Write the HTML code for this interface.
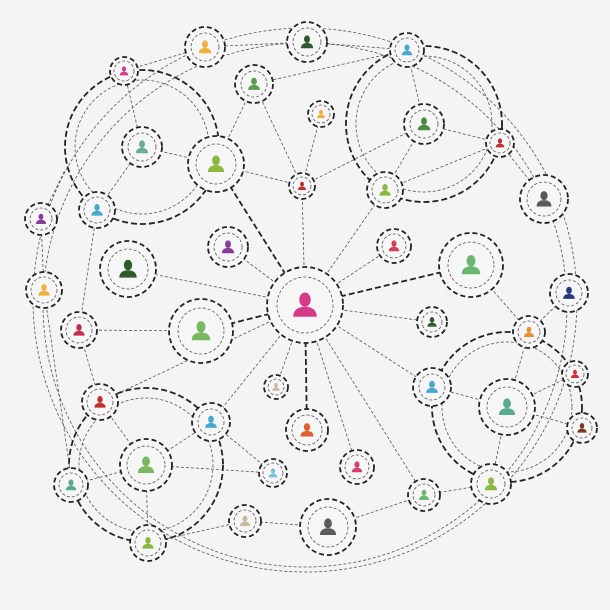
<!DOCTYPE html>
<html><head><meta charset="utf-8"><style>html,body{margin:0;padding:0;background:#f4f4f4}svg{display:block}</style></head><body>
<svg width="610" height="610" viewBox="0 0 610 610" xmlns="http://www.w3.org/2000/svg">
<defs>
<g id="p"><ellipse cx="0" cy="-0.28" rx="0.3" ry="0.38"/><path d="M-0.62,0.62 Q-0.62,0.18 -0.14,0.1 L0.14,0.1 Q0.62,0.18 0.62,0.62 Z"/></g>
</defs>
<rect width="610" height="610" fill="#f4f4f4"/>
<g fill="none" stroke="#555" stroke-width="0.8" stroke-dasharray="3 2">
<circle cx="305" cy="300" r="272"/>
<circle cx="305" cy="305" r="262"/>
</g>
<g fill="none" stroke="#222" stroke-width="1.8" stroke-dasharray="6 3">
<circle cx="142" cy="147" r="77"/>
<circle cx="424" cy="124" r="78"/>
<circle cx="507" cy="407" r="75"/>
<circle cx="146" cy="465" r="77"/>
</g>
<g fill="none" stroke="#555" stroke-width="0.8" stroke-dasharray="3 2">
<circle cx="142" cy="147" r="67"/>
<circle cx="424" cy="124" r="68"/>
<circle cx="507" cy="407" r="65"/>
<circle cx="146" cy="465" r="67"/>
</g>
<g stroke="#222" stroke-width="1.8" stroke-dasharray="6 3">
<line x1="305" y1="305" x2="216" y2="164"/>
<line x1="305" y1="305" x2="471" y2="265"/>
<line x1="305" y1="305" x2="201" y2="331"/>
<line x1="305" y1="305" x2="307" y2="430"/>
</g>
<g stroke="#555" stroke-width="0.8" stroke-dasharray="3 2">
<line x1="305" y1="305" x2="302" y2="186"/>
<line x1="305" y1="305" x2="385" y2="190"/>
<line x1="305" y1="305" x2="394" y2="246"/>
<line x1="305" y1="305" x2="228" y2="247"/>
<line x1="305" y1="305" x2="128" y2="269"/>
<line x1="305" y1="305" x2="432" y2="322"/>
<line x1="305" y1="305" x2="432" y2="387"/>
<line x1="305" y1="305" x2="424" y2="495"/>
<line x1="305" y1="305" x2="211" y2="422"/>
<line x1="305" y1="305" x2="276" y2="387"/>
<line x1="305" y1="305" x2="357" y2="467"/>
<line x1="305" y1="305" x2="100" y2="402"/>
<line x1="302" y1="186" x2="254" y2="84"/>
<line x1="302" y1="186" x2="321" y2="114"/>
<line x1="302" y1="186" x2="216" y2="164"/>
<line x1="302" y1="186" x2="424" y2="124"/>
<line x1="385" y1="190" x2="424" y2="124"/>
<line x1="385" y1="190" x2="500" y2="143"/>
<line x1="216" y1="164" x2="142" y2="147"/>
<line x1="216" y1="164" x2="254" y2="84"/>
<line x1="254" y1="84" x2="407" y2="50"/>
<line x1="205" y1="47" x2="307" y2="42"/>
<line x1="307" y1="42" x2="407" y2="50"/>
<line x1="205" y1="47" x2="124" y2="71"/>
<line x1="124" y1="71" x2="142" y2="147"/>
<line x1="142" y1="147" x2="97" y2="210"/>
<line x1="407" y1="50" x2="424" y2="124"/>
<line x1="424" y1="124" x2="500" y2="143"/>
<line x1="500" y1="143" x2="544" y2="199"/>
<line x1="41" y1="219" x2="65" y2="170"/>
<line x1="41" y1="219" x2="44" y2="290"/>
<line x1="44" y1="290" x2="70" y2="470"/>
<line x1="79" y1="330" x2="201" y2="331"/>
<line x1="79" y1="330" x2="97" y2="210"/>
<line x1="79" y1="330" x2="100" y2="402"/>
<line x1="471" y1="265" x2="529" y2="332"/>
<line x1="529" y1="332" x2="569" y2="293"/>
<line x1="529" y1="332" x2="507" y2="407"/>
<line x1="507" y1="407" x2="432" y2="387"/>
<line x1="507" y1="407" x2="575" y2="374"/>
<line x1="507" y1="407" x2="582" y2="428"/>
<line x1="507" y1="407" x2="491" y2="484"/>
<line x1="424" y1="495" x2="491" y2="484"/>
<line x1="100" y1="402" x2="146" y2="465"/>
<line x1="211" y1="422" x2="146" y2="465"/>
<line x1="146" y1="465" x2="273" y2="473"/>
<line x1="146" y1="465" x2="71" y2="485"/>
<line x1="146" y1="465" x2="148" y2="543"/>
<line x1="148" y1="543" x2="245" y2="521"/>
<line x1="245" y1="521" x2="328" y2="527"/>
<line x1="328" y1="527" x2="424" y2="495"/>
<line x1="211" y1="422" x2="273" y2="473"/>
</g>
<g fill="#f6f6f6" stroke="#222" stroke-width="1.8" stroke-dasharray="5 3">
<circle cx="305" cy="305" r="38"/><circle cx="205" cy="47" r="20"/><circle cx="307" cy="42" r="20"/><circle cx="407" cy="50" r="17"/>
<circle cx="124" cy="71" r="14"/><circle cx="254" cy="84" r="19"/><circle cx="321" cy="114" r="13"/><circle cx="424" cy="124" r="20"/>
<circle cx="500" cy="143" r="14"/><circle cx="142" cy="147" r="20"/><circle cx="216" cy="164" r="28"/><circle cx="302" cy="186" r="13"/>
<circle cx="385" cy="190" r="18"/><circle cx="544" cy="199" r="24"/><circle cx="41" cy="219" r="16"/><circle cx="97" cy="210" r="18"/>
<circle cx="228" cy="247" r="20"/><circle cx="394" cy="246" r="17"/><circle cx="128" cy="269" r="28"/><circle cx="471" cy="265" r="32"/>
<circle cx="44" cy="290" r="18"/><circle cx="569" cy="293" r="19"/><circle cx="79" cy="330" r="18"/><circle cx="201" cy="331" r="32"/>
<circle cx="432" cy="322" r="15"/><circle cx="529" cy="332" r="16"/><circle cx="575" cy="374" r="13"/><circle cx="276" cy="387" r="12"/>
<circle cx="432" cy="387" r="19"/><circle cx="100" cy="402" r="18"/><circle cx="507" cy="407" r="28"/><circle cx="211" cy="422" r="19"/>
<circle cx="307" cy="430" r="21"/><circle cx="582" cy="428" r="15"/><circle cx="146" cy="465" r="26"/><circle cx="273" cy="473" r="14"/>
<circle cx="357" cy="467" r="17"/><circle cx="71" cy="485" r="17"/><circle cx="491" cy="484" r="20"/><circle cx="424" cy="495" r="16"/>
<circle cx="245" cy="521" r="16"/><circle cx="328" cy="527" r="28"/><circle cx="148" cy="543" r="18"/>
</g>
<g fill="none" stroke="#555" stroke-width="0.8" stroke-dasharray="3 2">
<circle cx="305" cy="305" r="28"/><circle cx="205" cy="47" r="14"/><circle cx="307" cy="42" r="14"/><circle cx="407" cy="50" r="12"/>
<circle cx="124" cy="71" r="10"/><circle cx="254" cy="84" r="13"/><circle cx="321" cy="114" r="9"/><circle cx="424" cy="124" r="14"/>
<circle cx="500" cy="143" r="10"/><circle cx="142" cy="147" r="14"/><circle cx="216" cy="164" r="20"/><circle cx="302" cy="186" r="9"/>
<circle cx="385" cy="190" r="13"/><circle cx="544" cy="199" r="17"/><circle cx="41" cy="219" r="11"/><circle cx="97" cy="210" r="13"/>
<circle cx="228" cy="247" r="14"/><circle cx="394" cy="246" r="12"/><circle cx="128" cy="269" r="20"/><circle cx="471" cy="265" r="23"/>
<circle cx="44" cy="290" r="13"/><circle cx="569" cy="293" r="13"/><circle cx="79" cy="330" r="13"/><circle cx="201" cy="331" r="23"/>
<circle cx="432" cy="322" r="10"/><circle cx="529" cy="332" r="11"/><circle cx="575" cy="374" r="9"/><circle cx="276" cy="387" r="8"/>
<circle cx="432" cy="387" r="13"/><circle cx="100" cy="402" r="13"/><circle cx="507" cy="407" r="20"/><circle cx="211" cy="422" r="13"/>
<circle cx="307" cy="430" r="15"/><circle cx="582" cy="428" r="10"/><circle cx="146" cy="465" r="19"/><circle cx="273" cy="473" r="10"/>
<circle cx="357" cy="467" r="12"/><circle cx="71" cy="485" r="12"/><circle cx="491" cy="484" r="14"/><circle cx="424" cy="495" r="11"/>
<circle cx="245" cy="521" r="11"/><circle cx="328" cy="527" r="20"/><circle cx="148" cy="543" r="13"/>
</g>
<use href="#p" fill="#d63b8a" transform="translate(305,305) scale(19)"/>
<use href="#p" fill="#f0b040" transform="translate(205,47) scale(10)"/>
<use href="#p" fill="#2e5a2e" transform="translate(307,42) scale(10)"/>
<use href="#p" fill="#4aa8cc" transform="translate(407,50) scale(8.5)"/>
<use href="#p" fill="#d63b8a" transform="translate(124,71) scale(7)"/>
<use href="#p" fill="#5a9a50" transform="translate(254,84) scale(9.5)"/>
<use href="#p" fill="#f0b040" transform="translate(321,114) scale(6.5)"/>
<use href="#p" fill="#4e8a44" transform="translate(424,124) scale(10)"/>
<use href="#p" fill="#c03030" transform="translate(500,143) scale(7)"/>
<use href="#p" fill="#6aaa96" transform="translate(142,147) scale(10)"/>
<use href="#p" fill="#8ab840" transform="translate(216,164) scale(13)"/>
<use href="#p" fill="#c03030" transform="translate(302,186) scale(6.5)"/>
<use href="#p" fill="#8ab840" transform="translate(385,190) scale(9)"/>
<use href="#p" fill="#5a5a5a" transform="translate(544,199) scale(12)"/>
<use href="#p" fill="#8a3a9a" transform="translate(41,219) scale(8)"/>
<use href="#p" fill="#4aa8cc" transform="translate(97,210) scale(9)"/>
<use href="#p" fill="#8a3a9a" transform="translate(228,247) scale(10)"/>
<use href="#p" fill="#d04050" transform="translate(394,246) scale(8.5)"/>
<use href="#p" fill="#2e5a2e" transform="translate(128,269) scale(14)"/>
<use href="#p" fill="#6ab870" transform="translate(471,265) scale(15)"/>
<use href="#p" fill="#f0b040" transform="translate(44,290) scale(9)"/>
<use href="#p" fill="#2a3a80" transform="translate(569,293) scale(9.5)"/>
<use href="#p" fill="#c03050" transform="translate(79,330) scale(9)"/>
<use href="#p" fill="#7ab860" transform="translate(201,331) scale(15)"/>
<use href="#p" fill="#2e5a2e" transform="translate(432,322) scale(7.5)"/>
<use href="#p" fill="#e89030" transform="translate(529,332) scale(8)"/>
<use href="#p" fill="#d03030" transform="translate(575,374) scale(6.5)"/>
<use href="#p" fill="#c8b8a0" transform="translate(276,387) scale(6)"/>
<use href="#p" fill="#4aa8cc" transform="translate(432,387) scale(9.5)"/>
<use href="#p" fill="#c03030" transform="translate(100,402) scale(9)"/>
<use href="#p" fill="#5aaa90" transform="translate(507,407) scale(13)"/>
<use href="#p" fill="#4aa8cc" transform="translate(211,422) scale(9.5)"/>
<use href="#p" fill="#e06030" transform="translate(307,430) scale(10.5)"/>
<use href="#p" fill="#7a3a20" transform="translate(582,428) scale(7.5)"/>
<use href="#p" fill="#7ab860" transform="translate(146,465) scale(13)"/>
<use href="#p" fill="#7ac0dc" transform="translate(273,473) scale(7)"/>
<use href="#p" fill="#d04070" transform="translate(357,467) scale(8.5)"/>
<use href="#p" fill="#5aaa90" transform="translate(71,485) scale(8.5)"/>
<use href="#p" fill="#8ab840" transform="translate(491,484) scale(10)"/>
<use href="#p" fill="#6ab870" transform="translate(424,495) scale(8)"/>
<use href="#p" fill="#c8b8a0" transform="translate(245,521) scale(8)"/>
<use href="#p" fill="#5a5a5a" transform="translate(328,527) scale(13)"/>
<use href="#p" fill="#8ab840" transform="translate(148,543) scale(9)"/>
</svg>
</body></html>
